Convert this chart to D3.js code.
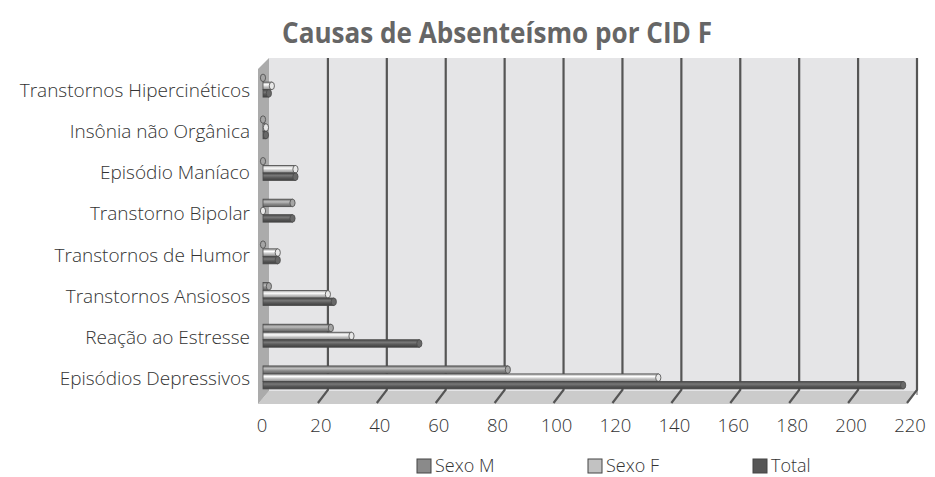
<!DOCTYPE html>
<html>
<head>
<meta charset="utf-8">
<script src="https://cdn.jsdelivr.net/npm/d3@7"></script>
<style>
  body { margin: 0; background: #fff; }
  svg { display: block; font-family: "Open Sans", sans-serif; }
</style>
</head>
<body>
<div id="chart"></div>
<script>
// data
const categories = [
  "Transtornos Hipercinéticos",
  "Insônia não Orgânica",
  "Episódio Maníaco",
  "Transtorno Bipolar",
  "Transtornos de Humor",
  "Transtornos Ansiosos",
  "Reação ao Estresse",
  "Episódios Depressivos"
];
const seriesNames = ["Sexo M", "Sexo F", "Total"];
const sexoM = [0, 0, 0, 10, 0, 2, 23, 83];
const sexoF = [3, 1, 11, 0, 5, 22, 30, 134];
const total = [2, 1, 11, 10, 5, 24, 53, 217];
const xTicks = [0, 20, 40, 60, 80, 100, 120, 140, 160, 180, 200, 220];

const width = 935, height = 477;
const colors = ["#8a8a8a", "#c2c2c2", "#575757"];

const svg = d3.select("#chart").append("svg")
  .attr("width", width).attr("height", height);

// 3d box geometry
const wallTop = 58, floorBack = 391, floorFront = 404, depthX = 10;

const xBack = d3.scaleLinear().domain([0, 220]).range([269, 917]);
const xFront = d3.scaleLinear().domain([0, 220]).range([262, 910]);
const xBar = d3.scaleLinear().domain([0, 220]).range([263, 912]);

const yLabel = d3.scaleBand().domain(categories).range([69.5, 398.5]);
const yBar = d3.scaleBand().domain(categories).range([65, 398.5]);
const rowOffset = [-8, 0, 7.5];
const barH = 7.5;

// gradients for the cylinders
const defs = svg.append("defs");
colors.forEach((c, i) => {
  const g = defs.append("linearGradient").attr("id", "cyl" + i)
    .attr("x1", 0).attr("y1", 0).attr("x2", 0).attr("y2", 1);
  const base = d3.color(c);
  g.append("stop").attr("offset", "0%").attr("stop-color", base.darker(0.6));
  g.append("stop").attr("offset", "35%").attr("stop-color", base.brighter(0.9));
  g.append("stop").attr("offset", "65%").attr("stop-color", base);
  g.append("stop").attr("offset", "100%").attr("stop-color", base.darker(0.9));
});

// back wall
svg.append("rect")
  .attr("x", xBack(0)).attr("y", wallTop)
  .attr("width", xBack(220) - xBack(0)).attr("height", floorBack - wallTop)
  .attr("fill", "#e5e5e7");

// floor
svg.append("path")
  .attr("d", `M${xBack(0)},${floorBack}L${xBack(220)},${floorBack}L${xBack(220) - depthX},${floorFront}L${xBack(0) - 11},${floorFront}Z`)
  .attr("fill", "#cbcbcb");

// left wall
svg.append("path")
  .attr("d", `M${xBack(0) - 11},${wallTop + 11}L${xBack(0)},${wallTop}L${xBack(0)},${floorBack}L${xBack(0) - 11},${floorFront}Z`)
  .attr("fill", "#ababab");

// right edge of the wall
svg.append("line")
  .attr("x1", xBack(220)).attr("x2", xBack(220))
  .attr("y1", wallTop).attr("y2", floorBack + 4)
  .attr("stroke", "#b0b0b0").attr("stroke-width", 2);

// gridlines + floor ticks
const grid = svg.append("g");
grid.selectAll("path").data(xTicks.filter(d => d > 0))
  .join("path")
  .attr("d", d => `M${xBack(d)},${wallTop}L${xBack(d)},${floorBack - 1}L${xBack(d) - depthX},${floorFront - 1}`)
  .attr("fill", "none")
  .attr("stroke", "#555")
  .attr("stroke-width", 2.2);

// bars
const bars = svg.append("g");
const seriesData = [sexoM, sexoF, total];
seriesData.forEach((vals, s) => {
  const g = bars.append("g");
  const rows = categories.map((c, i) => ({ c, v: vals[i], y: yBar(c) + yBar.bandwidth() / 2 + rowOffset[s] }));
  g.selectAll("rect").data(rows.filter(d => d.v > 0))
    .join("rect")
    .attr("x", xBar(0))
    .attr("y", d => d.y - barH / 2)
    .attr("width", d => xBar(d.v) - xBar(0))
    .attr("height", barH)
    .attr("fill", `url(#cyl${s})`)
    .attr("stroke", "#4a4a4a")
    .attr("stroke-width", 0.8);
  g.selectAll("ellipse").data(rows)
    .join("ellipse")
    .attr("cx", d => xBar(d.v))
    .attr("cy", d => d.y)
    .attr("rx", 2.6)
    .attr("ry", barH / 2)
    .attr("fill", d3.color(colors[s]).brighter(0.5))
    .attr("stroke", "#4a4a4a")
    .attr("stroke-width", 0.8);
});

// category labels
svg.append("g").selectAll("text").data(categories)
  .join("text")
  .attr("x", 250)
  .attr("y", d => yLabel(d) + yLabel.bandwidth() / 2)
  .attr("text-anchor", "end")
  .attr("dominant-baseline", "central")
  .attr("font-size", 19)
  .attr("font-weight", 300)
  .attr("fill", "#333")
  .text(d => d);

// x tick labels
svg.append("g").selectAll("text").data(xTicks)
  .join("text")
  .attr("x", d => xFront(d))
  .attr("y", 424)
  .attr("text-anchor", "middle")
  .attr("dominant-baseline", "central")
  .attr("font-size", 18.5)
  .attr("font-weight", 300)
  .attr("fill", "#333")
  .text(d => d);

// title
svg.append("text")
  .attr("x", 497).attr("y", 43)
  .attr("text-anchor", "middle")
  .attr("font-size", 28)
  .attr("font-weight", "bold")
  .attr("fill", "#666")
  .attr("textLength", 430)
  .attr("lengthAdjust", "spacingAndGlyphs")
  .text("Causas de Absenteísmo por CID F");

// legend
const legendX = [417, 588, 753];
const legend = svg.append("g").selectAll("g").data(seriesNames)
  .join("g")
  .attr("transform", (d, i) => `translate(${legendX[i]},465)`);
legend.append("rect")
  .attr("x", 0).attr("y", -6).attr("width", 14).attr("height", 14)
  .attr("fill", (d, i) => colors[i])
  .attr("stroke", "#444").attr("stroke-width", 1);
legend.append("text")
  .attr("x", 18).attr("y", 0)
  .attr("dominant-baseline", "central")
  .attr("font-size", 18)
  .attr("font-weight", 300)
  .attr("fill", "#333")
  .text(d => d);
</script>
</body>
</html>
